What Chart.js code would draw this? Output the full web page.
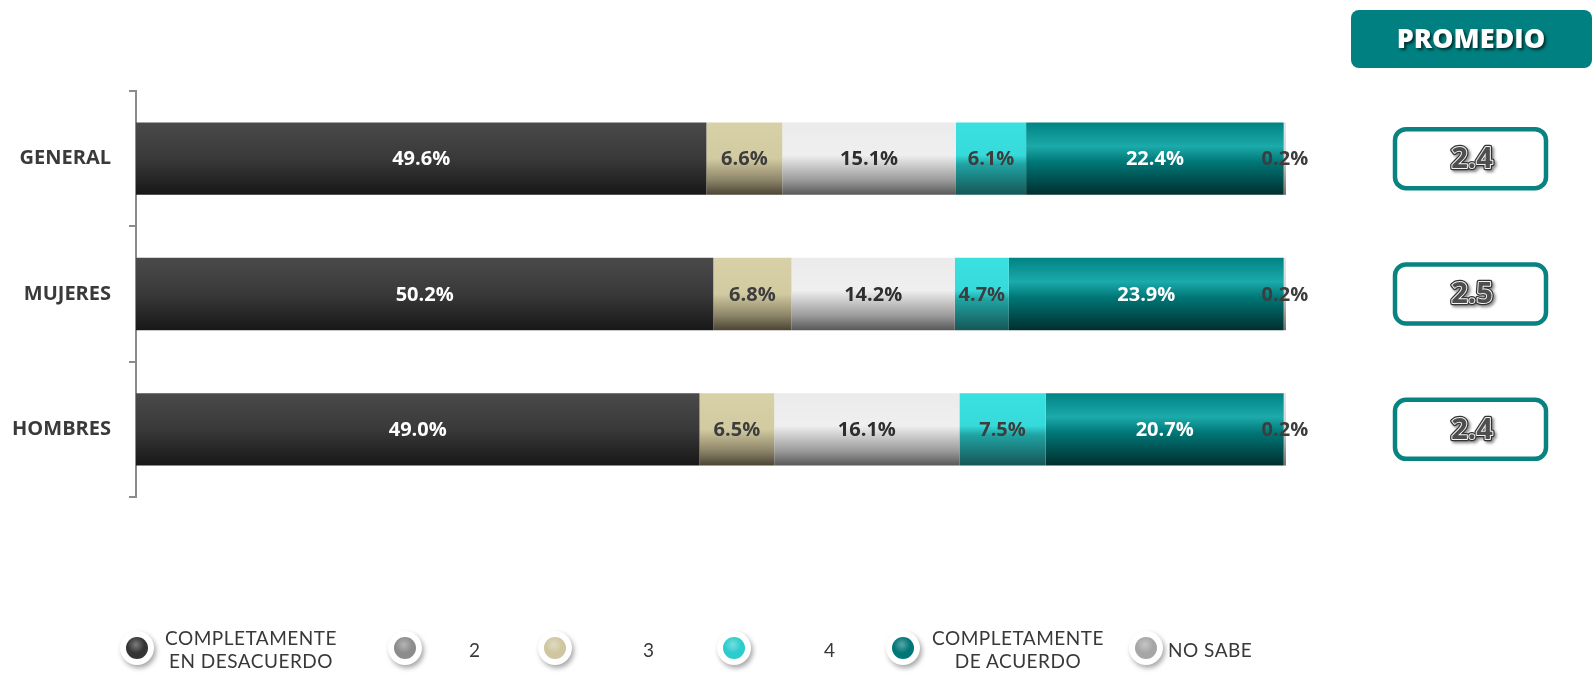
<!DOCTYPE html>
<html lang="es">
<head>
<meta charset="utf-8">
<title>Promedio por grupo</title>
<script src="https://cdn.jsdelivr.net/npm/chart.js@4.4.1/dist/chart.umd.min.js"></script>
<style>
    html, body { margin: 0; padding: 0; background: #ffffff; }
    #wrap { position: relative; width: 1595px; height: 679px; overflow: hidden; }
    #legend { position: absolute; left: 0; top: 0; width: 1595px; height: 679px; pointer-events: none;
              font-family: Lato, "Noto Sans", sans-serif; color: #383838; font-size: 19px; letter-spacing: 0.5px; }
    .dot { position: absolute; width: 34px; height: 34px; border-radius: 50%; background: #ffffff;
           box-shadow: 2px 3px 5px rgba(0,0,0,0.35); }
    .dot span { position: absolute; left: 6px; top: 6px; width: 22px; height: 22px; border-radius: 50%; }
    .lbl { position: absolute; line-height: 23px; white-space: nowrap; text-align: center; }
</style>
</head>
<body>
<div id="wrap">
    <canvas id="chart"></canvas>
    <div id="legend"></div>
</div>
<script>
// --- DATA ---
const categories = ['GENERAL', 'MUJERES', 'HOMBRES'];
const seriesNames = ['COMPLETAMENTE EN DESACUERDO', '2', '3', '4', 'COMPLETAMENTE DE ACUERDO', 'NO SABE'];
const desacuerdo = [49.6, 50.2, 49.0];
const nivel2 = [6.6, 6.8, 6.5];
const nivel3 = [15.1, 14.2, 16.1];
const nivel4 = [6.1, 4.7, 7.5];
const deAcuerdo = [22.4, 23.9, 20.7];
const noSabe = [0.2, 0.2, 0.2];
const promedio = [2.4, 2.5, 2.4];

// --- STYLES ---
// vertical gradient stops for each segment, top to bottom
const barStops = [
    [[0, '#4a4a4a'], [0.5, '#393939'], [1, '#171717']],
    [[0, '#d8d1a8'], [0.5, '#d2caa0'], [0.8, '#8c8468'], [1, '#4a4434']],
    [[0, '#ebebeb'], [0.45, '#efefef'], [0.8, '#9a9a9a'], [1, '#585858']],
    [[0, '#3ae0e0'], [0.45, '#36dada'], [0.58, '#20a2a2'], [1, '#165656']],
    [[0, '#008282'], [0.33, '#1caaaa'], [0.55, '#007676'], [1, '#012e2e']],
    [[0, '#e6e6e6'], [0.5, '#d0d0d0'], [1, '#707070']]
];
const labelColors = ['#ffffff', '#3d3d3d', '#2e2e2e', '#3d3d3d', '#ffffff', '#3d3d3d'];
const legendColors = ['#353535', '#8c8c8c', '#cfc6a0', '#2ccccc', '#007676', '#a6a6a6'];
const BAR_PCT = 0.535;

function barGradient(i) {
    return (ctx) => {
        const chart = ctx.chart;
        if (!chart.chartArea || ctx.dataIndex === undefined) return barStops[i][1][1];
        const y = chart.scales.y;
        const c = y.getPixelForValue(ctx.dataIndex);
        const h = Math.abs(y.getPixelForValue(1) - y.getPixelForValue(0)) * BAR_PCT;
        const g = chart.ctx.createLinearGradient(0, c - h / 2, 0, c + h / 2);
        barStops[i].forEach(s => g.addColorStop(s[0], s[1]));
        return g;
    };
}

const seriesData = [desacuerdo, nivel2, nivel3, nivel4, deAcuerdo, noSabe];

// --- PLUGINS ---
const segmentLabels = {
    id: 'segmentLabels',
    afterDatasetsDraw(chart) {
        const ctx = chart.ctx;
        ctx.save();
        ctx.font = 'bold 20px "Open Sans"';
        ctx.textAlign = 'center';
        ctx.textBaseline = 'middle';
        chart.data.datasets.forEach((ds, i) => {
            chart.getDatasetMeta(i).data.forEach((bar, j) => {
                const p = bar.getCenterPoint();
                ctx.fillStyle = labelColors[i];
                ctx.fillText(ds.data[j].toFixed(1) + '%', p.x, p.y + 1);
            });
        });
        ctx.restore();
    }
};

function roundRect(ctx, x, y, w, h, r) {
    ctx.beginPath();
    ctx.moveTo(x + r, y);
    ctx.arcTo(x + w, y, x + w, y + h, r);
    ctx.arcTo(x + w, y + h, x, y + h, r);
    ctx.arcTo(x, y + h, x, y, r);
    ctx.arcTo(x, y, x + w, y, r);
    ctx.closePath();
}

const promedioPanel = {
    id: 'promedioPanel',
    afterDraw(chart) {
        const ctx = chart.ctx;
        const y = chart.scales.y;
        ctx.save();
        // header
        roundRect(ctx, 1351, 10, 241, 58, 8);
        ctx.fillStyle = '#008080';
        ctx.fill();
        ctx.font = '800 27px "Open Sans"';
        ctx.textAlign = 'center';
        ctx.textBaseline = 'middle';
        ctx.shadowColor = 'rgba(0,0,0,0.65)';
        ctx.shadowOffsetX = 2;
        ctx.shadowOffsetY = 2;
        ctx.shadowBlur = 3;
        ctx.fillStyle = '#ffffff';
        ctx.fillText('PROMEDIO', 1471, 40);
        ctx.restore();

        // one box per category
        promedio.forEach((v, i) => {
            const cy = y.getPixelForValue(i);
            const txt = v.toFixed(1);
            ctx.save();
            roundRect(ctx, 1395, cy - 29.5, 151, 59, 11);
            ctx.fillStyle = '#ffffff';
            ctx.fill();
            ctx.lineWidth = 4.5;
            ctx.strokeStyle = '#098282';
            ctx.stroke();
            ctx.font = 'bold 29px "Open Sans"';
            ctx.textAlign = 'center';
            ctx.textBaseline = 'middle';
            ctx.lineJoin = 'round';
            // dark outline, white inner ring, grey fill
            ctx.shadowColor = 'rgba(0,0,0,0.45)';
            ctx.shadowOffsetX = 2;
            ctx.shadowOffsetY = 2;
            ctx.shadowBlur = 3;
            ctx.lineWidth = 4.5;
            ctx.strokeStyle = '#333333';
            ctx.strokeText(txt, 1472, cy + 1);
            ctx.shadowColor = 'transparent';
            ctx.lineWidth = 2;
            ctx.strokeStyle = '#f4f4f4';
            ctx.strokeText(txt, 1472, cy + 1);
            ctx.fillStyle = '#4e4e4e';
            ctx.fillText(txt, 1472, cy + 1);
            ctx.restore();
        });
    }
};

// --- CHART ---
const chart = new Chart(document.getElementById('chart'), {
    type: 'bar',
    data: {
        labels: categories,
        datasets: seriesData.map((d, i) => ({
            label: seriesNames[i],
            data: d,
            backgroundColor: barGradient(i),
            borderWidth: 0,
            barPercentage: BAR_PCT,
            categoryPercentage: 1
        }))
    },
    options: {
        indexAxis: 'y',
        responsive: true,
        maintainAspectRatio: false,
        animation: false,
        layout: { padding: { top: 91, bottom: 182, right: 309, left: 0 } },
        plugins: { legend: { display: false }, tooltip: { enabled: false } },
        scales: {
            x: { stacked: true, min: 0, max: 100, display: false },
            y: {
                stacked: true,
                afterFit: (scale) => { scale.width = 136; },
                border: { display: true, color: '#8c8c8c', width: 2 },
                grid: { offset: true, drawOnChartArea: false, drawTicks: true, tickLength: 7, color: '#8c8c8c', lineWidth: 2 },
                ticks: { color: '#3a3a3a', padding: 18, font: { family: '"Open Sans"', weight: 'bold', size: 20 } }
            }
        }
    },
    plugins: [segmentLabels, promedioPanel]
});

// --- LEGEND ---
const legendItems = [
    { cx: 137, text: ['COMPLETAMENTE', 'EN DESACUERDO'], left: 165 },
    { cx: 405, text: ['2'], center: 475 },
    { cx: 555, text: ['3'], center: 649 },
    { cx: 734, text: ['4'], center: 830 },
    { cx: 903, text: ['COMPLETAMENTE', 'DE ACUERDO'], left: 932 },
    { cx: 1146, text: ['NO SABE'], left: 1168 }
];
const legendEl = document.getElementById('legend');
const legendY = 648;
legendItems.forEach((item, i) => {
    const dot = document.createElement('div');
    dot.className = 'dot';
    dot.style.left = (item.cx - 17) + 'px';
    dot.style.top = (legendY - 17) + 'px';
    const inner = document.createElement('span');
    const c = legendColors[i];
    inner.style.background = `radial-gradient(circle at 45% 35%, rgba(255,255,255,0.35) 0%, ${c} 45%, ${c} 75%, rgba(0,0,0,0.35) 100%), ${c}`;
    dot.appendChild(inner);
    legendEl.appendChild(dot);

    const lbl = document.createElement('div');
    lbl.className = 'lbl';
    lbl.innerHTML = item.text.join('<br>');
    lbl.style.top = (legendY - item.text.length * 11.5 + 1) + 'px';
    legendEl.appendChild(lbl);
    if (item.center !== undefined) {
        lbl.style.left = (item.center - lbl.offsetWidth / 2) + 'px';
    } else {
        lbl.style.left = item.left + 'px';
    }
});
</script>
</body>
</html>
